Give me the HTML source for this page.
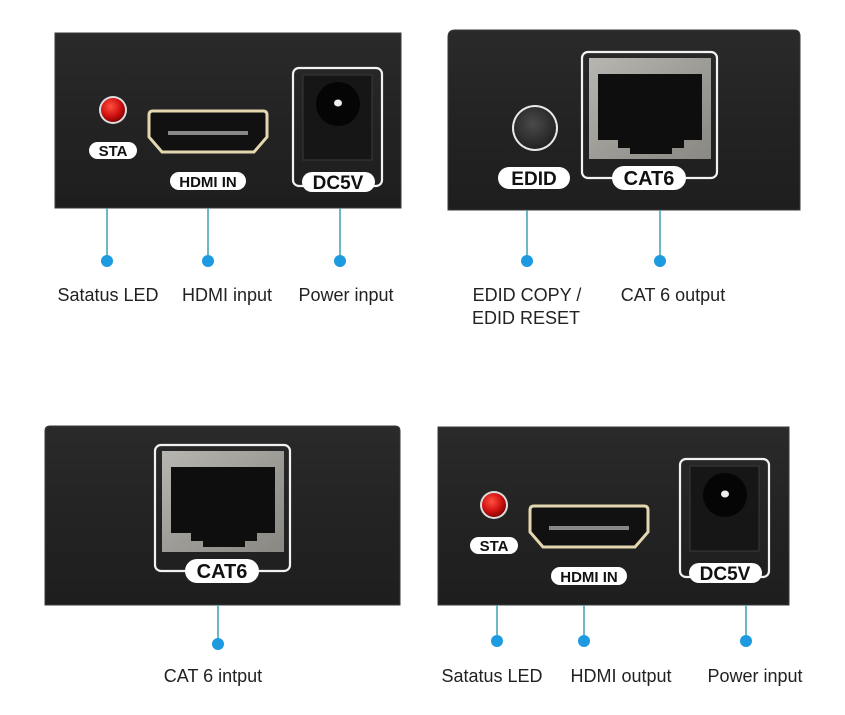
<!DOCTYPE html>
<html><head><meta charset="utf-8"><style>
html,body{margin:0;padding:0;background:#fff;}
svg{display:block;}
.lbl{font-family:"Liberation Sans",sans-serif;font-size:18px;fill:#222;}
.pill{font-family:"Liberation Sans",sans-serif;font-weight:bold;fill:#111;text-anchor:middle;}
</style></head><body>
<svg width="845" height="715" viewBox="0 0 845 715" xmlns="http://www.w3.org/2000/svg">
<defs>
<linearGradient id="panel" x1="0" y1="0" x2="0" y2="1">
<stop offset="0" stop-color="#2a2a2a"/><stop offset="0.5" stop-color="#232323"/><stop offset="1" stop-color="#1e1e1e"/>
</linearGradient>
<linearGradient id="silver" x1="0" y1="0" x2="1" y2="1">
<stop offset="0" stop-color="#b8b6b0"/><stop offset="0.5" stop-color="#9e9c96"/><stop offset="1" stop-color="#8a8882"/>
</linearGradient>
<radialGradient id="led" cx="0.4" cy="0.35" r="0.7">
<stop offset="0" stop-color="#ff5040"/><stop offset="0.6" stop-color="#d01010"/><stop offset="1" stop-color="#7a0000"/>
</radialGradient>
<radialGradient id="btn" cx="0.45" cy="0.4" r="0.7">
<stop offset="0" stop-color="#4a4a4a"/><stop offset="1" stop-color="#1c1c1c"/>
</radialGradient>
<g id="rj45">
<rect x="0" y="0" width="135" height="126" rx="6" fill="none" stroke="#f2f2f2" stroke-width="2.2"/>
<rect x="7" y="6" width="122" height="101" fill="url(#silver)"/>
<path d="M16,22 H120 V88 H102 V96 H90 V102 H48 V96 H36 V88 H16 Z" fill="#0e0e0e"/>
<rect x="30" y="114" width="74" height="24" rx="12" fill="#fff"/>
<text class="pill" x="67" y="133" font-size="20">CAT6</text>
</g>
<g id="hdmi">
<path d="M5,1 H115 Q119,1 119,5 V27 L106,42 H14 L1,27 V5 Q1,1 5,1 Z" fill="#111" stroke="#e3d7b0" stroke-width="3"/>
<rect x="20" y="21" width="80" height="4" fill="#888"/>
<rect x="22" y="62" width="76" height="18" rx="9" fill="#fff"/>
<text class="pill" x="60" y="77" font-size="15">HDMI IN</text>
</g>
<g id="dc">
<rect x="0" y="0" width="89" height="118" rx="6" fill="none" stroke="#f2f2f2" stroke-width="2.2"/>
<rect x="10" y="7" width="69" height="85" fill="#161616" stroke="#3a3a3a"/>
<circle cx="45" cy="36" r="22" fill="#050505"/>
<ellipse cx="45" cy="35" rx="4" ry="3.5" fill="#eee"/>
<rect x="9" y="104" width="73" height="20" rx="10" fill="#fff"/>
<text class="pill" x="45" y="121" font-size="19">DC5V</text>
</g>
<g id="ledg">
<circle cx="0" cy="0" r="14" fill="#ddd"/>
<circle cx="0" cy="0" r="12" fill="url(#led)"/>
<rect x="-24" y="32" width="48" height="17" rx="8.5" fill="#fff"/>
<text class="pill" x="0" y="46" font-size="15">STA</text>
</g>
</defs>

<!-- Panel 1 -->
<rect x="55" y="33" width="346" height="175" fill="url(#panel)" stroke="#3a3a3a"/>
<use href="#ledg" x="113" y="110"/>
<use href="#hdmi" x="148" y="110"/>
<use href="#dc" x="293" y="68"/>

<!-- Panel 2 -->
<path d="M455,30 H794 Q800,30 800,36 V210 H448 V37 Q448,30 455,30 Z" fill="url(#panel)" stroke="#3a3a3a"/>
<circle cx="535" cy="128" r="23" fill="#e8e8e8"/>
<circle cx="535" cy="128" r="21" fill="url(#btn)"/>
<rect x="498" y="167" width="72" height="22" rx="11" fill="#fff"/>
<text class="pill" x="534" y="185" font-size="19">EDID</text>
<use href="#rj45" x="582" y="52"/>

<!-- Panel 3 -->
<path d="M50,426 H395 Q400,426 400,431 V605 H45 V431 Q45,426 50,426 Z" fill="url(#panel)" stroke="#3a3a3a"/>
<use href="#rj45" x="155" y="445"/>

<!-- Panel 4 -->
<rect x="438" y="427" width="351" height="178" fill="url(#panel)" stroke="#3a3a3a"/>
<use href="#ledg" x="494" y="505"/>
<use href="#hdmi" x="529" y="505"/>
<use href="#dc" x="680" y="459"/>

<!-- connectors -->
<g stroke="#3aa0b0" stroke-width="1.5">
<line x1="107" y1="208" x2="107" y2="261"/>
<line x1="208" y1="208" x2="208" y2="261"/>
<line x1="340" y1="208" x2="340" y2="261"/>
<line x1="527" y1="210" x2="527" y2="261"/>
<line x1="660" y1="210" x2="660" y2="261"/>
<line x1="218" y1="605" x2="218" y2="644"/>
<line x1="497" y1="605" x2="497" y2="641"/>
<line x1="584" y1="605" x2="584" y2="641"/>
<line x1="746" y1="605" x2="746" y2="641"/>
</g>
<g fill="#1e9be0">
<circle cx="107" cy="261" r="6"/><circle cx="208" cy="261" r="6"/><circle cx="340" cy="261" r="6"/>
<circle cx="527" cy="261" r="6"/><circle cx="660" cy="261" r="6"/>
<circle cx="218" cy="644" r="6"/>
<circle cx="497" cy="641" r="6"/><circle cx="584" cy="641" r="6"/><circle cx="746" cy="641" r="6"/>
</g>

<!-- labels -->
<g class="lbl" text-anchor="middle">
<text x="108" y="301">Satatus LED</text>
<text x="227" y="301">HDMI input</text>
<text x="346" y="301">Power input</text>
<text x="527" y="301">EDID COPY /</text>
<text x="526" y="324">EDID RESET</text>
<text x="673" y="301">CAT 6 output</text>
<text x="213" y="682">CAT 6 intput</text>
<text x="492" y="682">Satatus LED</text>
<text x="621" y="682">HDMI output</text>
<text x="755" y="682">Power input</text>
</g>
</svg>
</body></html>
